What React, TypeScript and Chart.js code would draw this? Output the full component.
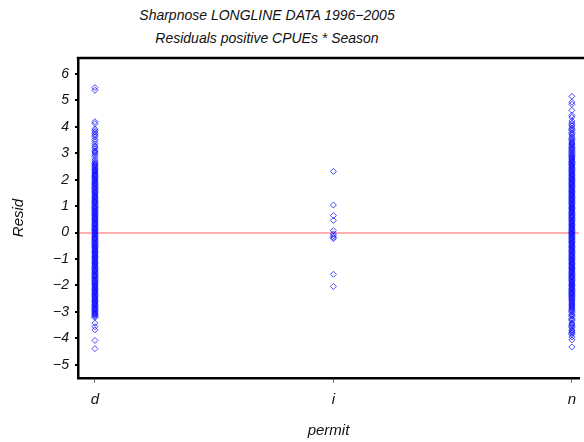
import React, { useEffect, useRef } from "react";
import { Chart, registerables } from "chart.js";

Chart.register(...registerables);

const permitCategories = ["d", "i", "n"];
const yTickValues = [-5, -4, -3, -2, -1, 0, 1, 2, 3, 4, 5, 6];
const titleLine1 = "Sharpnose LONGLINE DATA 1996\u22122005";
const titleLine2 = "Residuals positive CPUEs * Season";

const residD = [
  5.48, 5.38, 4.19, 4.12, 3.92, 3.86, 3.8, 3.74, 3.68, 3.62, 3.52, 3.45, 3.36, 3.28, 3.23, 3.17,
  3.09, 3.05, 3.01, 2.94, 2.88, 2.79, 2.72, 2.66, 2.62, 2.58, 2.55, 2.51, 2.47, 2.43, 2.39, 2.36,
  2.33, 2.29, 2.26, 2.22, 2.18, 2.15, 2.12, 2.09, 2.05, 2.02, 1.98, 1.95, 1.92, 1.88, 1.85, 1.82,
  1.79, 1.75, 1.71, 1.69, 1.66, 1.62, 1.58, 1.55, 1.52, 1.49, 1.45, 1.42, 1.38, 1.35, 1.33, 1.29,
  1.26, 1.22, 1.19, 1.16, 1.13, 1.1, 1.07, 1.03, 0.99, 0.96, 0.94, 0.91, 0.88, 0.84, 0.81, 0.78,
  0.75, 0.71, 0.68, 0.65, 0.62, 0.58, 0.55, 0.52, 0.49, 0.46, 0.43, 0.39, 0.36, 0.33, 0.31, 0.27,
  0.24, 0.2, 0.17, 0.14, 0.11, 0.08, 0.05, 0.02, -0.02, -0.05, -0.08, -0.11, -0.15, -0.18, -0.21,
  -0.24, -0.27, -0.3, -0.34, -0.37, -0.41, -0.43, -0.46, -0.5, -0.53, -0.56, -0.59, -0.62, -0.66,
  -0.69, -0.72, -0.75, -0.78, -0.81, -0.85, -0.88, -0.91, -0.94, -0.97, -1.0, -1.04, -1.07,
  -1.11, -1.13, -1.16, -1.19, -1.23, -1.26, -1.29, -1.32, -1.36, -1.39, -1.42, -1.45, -1.48,
  -1.51, -1.55, -1.58, -1.61, -1.64, -1.67, -1.7, -1.74, -1.77, -1.81, -1.83, -1.86, -1.9,
  -1.93, -1.96, -1.99, -2.02, -2.06, -2.09, -2.12, -2.15, -2.18, -2.21, -2.25, -2.28, -2.31,
  -2.34, -2.38, -2.41, -2.44, -2.47, -2.51, -2.54, -2.57, -2.6, -2.63, -2.66, -2.7, -2.73,
  -2.76, -2.79, -2.83, -2.86, -2.89, -2.92, -2.95, -2.98, -3.02, -3.05, -3.08, -3.11, -3.14,
  -3.18, -3.21, -3.43, -3.56, -3.68, -4.08, -4.39,
];

const residI = [2.31, 1.04, 0.64, 0.46, 0.07, -0.05, -0.12, -0.18, -0.23, -1.58, -2.04];

const residN = [
  5.15, 4.93, 4.85, 4.62, 4.43, 4.36, 4.22, 4.14, 4.08, 4.03, 3.95, 3.9, 3.86, 3.78, 3.74, 3.69,
  3.61, 3.56, 3.52, 3.47, 3.42, 3.38, 3.34, 3.31, 3.26, 3.22, 3.18, 3.15, 3.11, 3.07, 3.03, 2.99,
  2.95, 2.92, 2.88, 2.85, 2.82, 2.78, 2.75, 2.71, 2.68, 2.65, 2.61, 2.58, 2.55, 2.52, 2.48, 2.45,
  2.42, 2.39, 2.35, 2.32, 2.29, 2.26, 2.22, 2.19, 2.16, 2.13, 2.09, 2.06, 2.03, 2.0, 1.97, 1.94,
  1.9, 1.87, 1.84, 1.81, 1.77, 1.74, 1.71, 1.68, 1.64, 1.61, 1.58, 1.55, 1.52, 1.49, 1.45, 1.42,
  1.39, 1.36, 1.32, 1.29, 1.26, 1.23, 1.2, 1.17, 1.13, 1.1, 1.07, 1.04, 1.0, 0.97, 0.94, 0.91,
  0.88, 0.85, 0.81, 0.78, 0.75, 0.72, 0.68, 0.65, 0.62, 0.59, 0.56, 0.53, 0.49, 0.46, 0.43, 0.4,
  0.36, 0.33, 0.3, 0.27, 0.24, 0.21, 0.17, 0.14, 0.11, 0.08, 0.04, 0.01, -0.02, -0.05, -0.08,
  -0.11, -0.15, -0.18, -0.21, -0.24, -0.27, -0.31, -0.34, -0.37, -0.4, -0.43, -0.47, -0.5,
  -0.53, -0.56, -0.59, -0.63, -0.66, -0.69, -0.72, -0.75, -0.79, -0.82, -0.85, -0.88, -0.91,
  -0.95, -0.98, -1.01, -1.04, -1.07, -1.11, -1.14, -1.17, -1.2, -1.23, -1.27, -1.3, -1.33,
  -1.36, -1.39, -1.42, -1.46, -1.49, -1.52, -1.55, -1.59, -1.62, -1.65, -1.68, -1.71, -1.74,
  -1.78, -1.81, -1.84, -1.87, -1.91, -1.94, -1.97, -2.0, -2.03, -2.06, -2.1, -2.13, -2.16,
  -2.19, -2.23, -2.26, -2.29, -2.32, -2.35, -2.38, -2.42, -2.45, -2.48, -2.52, -2.56, -2.59,
  -2.63, -2.67, -2.71, -2.74, -2.78, -2.82, -2.86, -2.9, -2.94, -2.98, -3.02, -3.09, -3.13,
  -3.17, -3.25, -3.29, -3.33, -3.42, -3.46, -3.51, -3.55, -3.6, -3.68, -3.72, -3.77, -3.81,
  -3.86, -3.95, -4.06, -4.33,
];

const seriesByPermit = [residD, residI, residN];

const FONT = "'Liberation Sans', Arial, Helvetica, sans-serif";

const topFramePlugin = {
  id: "topFrame",
  afterDraw(chart: any) {
    const { ctx, chartArea } = chart;
    ctx.save();
    ctx.strokeStyle = "#000";
    ctx.lineWidth = 2.5;
    ctx.beginPath();
    ctx.moveTo(chartArea.left - 1.25, chartArea.top);
    ctx.lineTo(chart.width, chartArea.top);
    ctx.stroke();
    ctx.restore();
  },
};

export default function App() {
  const canvasRef = useRef<HTMLCanvasElement | null>(null);

  useEffect(() => {
    const canvas = canvasRef.current;
    if (!canvas) return;
    const points: { x: number; y: number }[] = [];
    seriesByPermit.forEach((vals, idx) => {
      vals.forEach((v) => points.push({ x: idx, y: v }));
    });

    const chart = new Chart(canvas, {
      type: "scatter",
      data: {
        datasets: [
          {
            data: points,
            pointStyle: "rectRot",
            pointRadius: 3,
            borderColor: "rgba(0,0,255,0.7)",
            backgroundColor: "rgba(0,0,0,0)",
            borderWidth: 1,
          },
        ],
      },
      options: {
        animation: false,
        responsive: false,
        maintainAspectRatio: false,
        layout: { padding: { top: 58, left: 0, right: 0, bottom: 0 } },
        plugins: {
          legend: { display: false },
          tooltip: { enabled: false },
          title: { display: false },
        },
        scales: {
          x: {
            type: "linear",
            min: -0.071,
            max: 2.03,
            afterBuildTicks: (scale: any) => {
              scale.ticks = permitCategories.map((_, i) => ({ value: i }));
            },
            afterFit: (scale: any) => {
              scale.height = 64;
              scale.paddingLeft = 0;
              scale.paddingRight = 0;
            },
            ticks: {
              callback: (v: any) => permitCategories[v as number] ?? "",
              font: { family: FONT, size: 15, style: "italic" },
              color: "#111",
              padding: 8,
              autoSkip: false,
              maxRotation: 0,
            },
            grid: {
              drawOnChartArea: false,
              drawTicks: true,
              tickLength: 5,
              tickColor: "#777",
              color: "#777",
            },
            border: { display: true, color: "#000", width: 2.5 },
            title: {
              display: true,
              text: "permit",
              font: { family: FONT, size: 15, style: "italic" },
              color: "#111",
              padding: { top: 0, bottom: 2 },
            },
          },
          y: {
            type: "linear",
            min: -5.5,
            max: 6.6,
            afterBuildTicks: (scale: any) => {
              scale.ticks = yTickValues.map((v) => ({ value: v }));
            },
            afterFit: (scale: any) => {
              scale.width = 78;
              scale.paddingTop = 0;
              scale.paddingBottom = 0;
            },
            ticks: {
              callback: (v: any) => (v < 0 ? "\u2212" + Math.abs(v) : String(v)),
              font: { family: FONT, size: 14, style: "italic" },
              color: "#111",
              padding: 6,
              autoSkip: false,
            },
            grid: {
              drawOnChartArea: true,
              drawTicks: true,
              tickLength: 3,
              tickColor: "#000",
              lineWidth: 2,
              color: (ctx: any) =>
                ctx.tick && ctx.tick.value === 0 ? "rgba(255,110,110,0.55)" : "rgba(0,0,0,0)",
            },
            border: { display: true, color: "#000", width: 2.5 },
            title: {
              display: true,
              text: "Resid",
              font: { family: FONT, size: 15, style: "italic" },
              color: "#111",
              padding: { top: 10, bottom: 0 },
            },
          },
        },
      },
      plugins: [topFramePlugin],
    });

    return () => {
      chart.destroy();
    };
  }, []);

  const titleStyle: React.CSSProperties = {
    position: "absolute",
    left: 0,
    width: 534,
    textAlign: "center",
    fontFamily: FONT,
    fontStyle: "italic",
    fontSize: 14,
    lineHeight: "16px",
    color: "#111",
    whiteSpace: "pre",
  };

  return (
    <div
      style={{
        position: "fixed",
        left: 0,
        top: 0,
        width: 584,
        height: 442,
        overflow: "hidden",
        background: "#fff",
      }}
    >
      <div style={{ ...titleStyle, top: 7 }}>{titleLine1}</div>
      <div style={{ ...titleStyle, top: 30 }}>{titleLine2}</div>
      <canvas
        ref={canvasRef}
        width={584}
        height={442}
        style={{ position: "absolute", left: 0, top: 0, width: 584, height: 442 }}
      />
    </div>
  );
}
